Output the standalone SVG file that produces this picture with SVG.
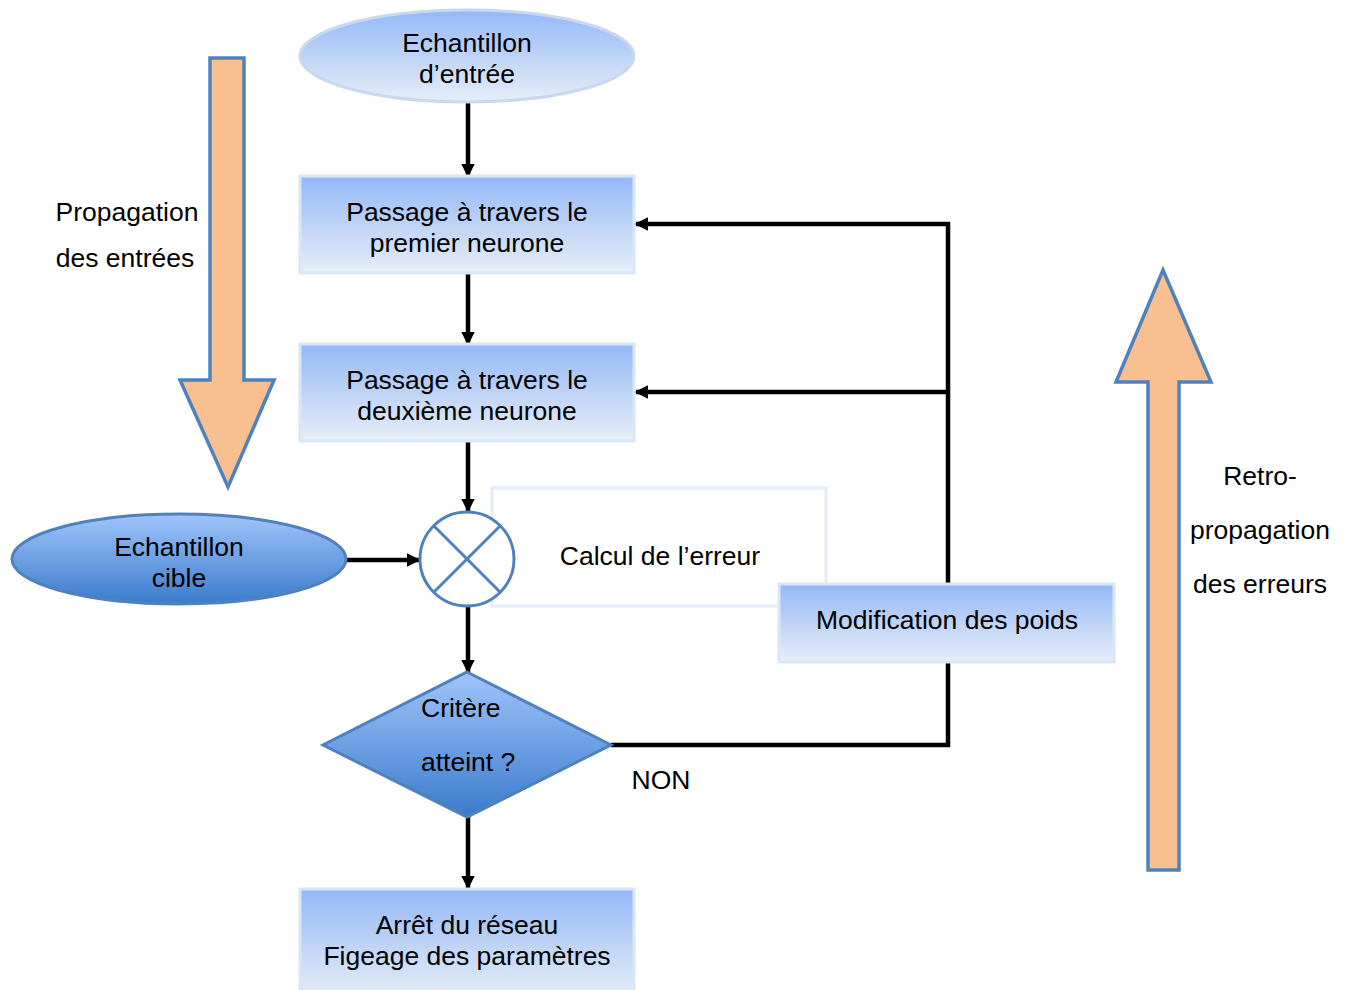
<svg xmlns="http://www.w3.org/2000/svg" width="1349" height="990" viewBox="0 0 1349 990">
<defs>
<linearGradient id="gLight" x1="0" y1="0" x2="0" y2="1">
<stop offset="0" stop-color="#93b8f9"/>
<stop offset="0.55" stop-color="#c2d6f5"/>
<stop offset="1" stop-color="#e6eef9"/>
</linearGradient>
<linearGradient id="gDark" x1="0" y1="0" x2="0" y2="1">
<stop offset="0" stop-color="#a0c4fb"/>
<stop offset="1" stop-color="#3b7bcb"/>
</linearGradient>
<marker id="ah" viewBox="0 0 10 10" refX="9" refY="5" markerWidth="3" markerHeight="3" orient="auto" markerUnits="strokeWidth">
<path d="M0,0 L10,5 L0,10 z" fill="#000"/>
</marker>
<style>
text{font-family:"Liberation Sans",Arial,sans-serif;font-size:26.5px;fill:#000;text-anchor:middle}
.box{fill:url(#gLight);stroke:#dbe6f5;stroke-width:3}
.dark{fill:url(#gDark);stroke:#4f81bd;stroke-width:3}
.conn{stroke:#000;stroke-width:4.5;fill:none}
.big{fill:#f8c090;stroke:#4f81bd;stroke-width:3.5}
</style>
</defs>
<g id="arrowDown"><path class="big" d="M210,58 L244,58 L244,380 L274,380 L228,487 L180,380 L210,380 Z"/></g>
<g id="arrowUp"><path class="big" d="M1148,870 L1179,870 L1179,382 L1211,382 L1163,270 L1116,382 L1148,382 Z"/></g>
<g id="labelProp"><text x="127" y="221">Propagation</text><text x="125" y="267">des entrées</text></g>
<g id="labelRetro"><text x="1260" y="485">Retro-</text><text x="1260" y="539">propagation</text><text x="1260" y="593">des erreurs</text></g>
<g id="connectors">
<line class="conn" x1="468" y1="103" x2="468" y2="176" marker-end="url(#ah)"/>
<line class="conn" x1="468" y1="273" x2="468" y2="344" marker-end="url(#ah)"/>
<line class="conn" x1="468" y1="441" x2="468" y2="511" marker-end="url(#ah)"/>
<line class="conn" x1="347" y1="560" x2="419" y2="560" marker-end="url(#ah)"/>
<line class="conn" x1="468" y1="606" x2="468" y2="672" marker-end="url(#ah)"/>
<line class="conn" x1="468" y1="817" x2="468" y2="888" marker-end="url(#ah)"/>
<polyline class="conn" points="611,745 948,745 948,662"/>
<polyline class="conn" points="948,584 948,224 636,224" marker-end="url(#ah)"/>
<line class="conn" x1="948" y1="392" x2="636" y2="392" marker-end="url(#ah)"/>
</g>
<g id="entree"><ellipse cx="467" cy="56" rx="167" ry="46" fill="url(#gLight)" stroke="#c8d8f0" stroke-width="3"/><text x="467" y="52">Echantillon</text><text x="467" y="83">d’entrée</text></g>
<g id="neurone1"><rect class="box" x="300" y="176" width="334" height="97"/><text x="467" y="221">Passage à travers le</text><text x="467" y="252">premier neurone</text></g>
<g id="neurone2"><rect class="box" x="300" y="344" width="334" height="97"/><text x="467" y="389">Passage à travers le</text><text x="467" y="420">deuxième neurone</text></g>
<g id="calcul"><rect x="492" y="488" width="334" height="118" fill="#fff" stroke="#e4ecf7" stroke-width="3"/><text x="660" y="565">Calcul de l’erreur</text></g>
<g id="comparateur"><circle cx="467" cy="559" r="47" fill="#fff" stroke="#4f81bd" stroke-width="3"/><line x1="434" y1="526" x2="500" y2="592" stroke="#4f81bd" stroke-width="3"/><line x1="500" y1="526" x2="434" y2="592" stroke="#4f81bd" stroke-width="3"/></g>
<g id="cible"><ellipse class="dark" cx="179" cy="559" rx="167" ry="45"/><text x="179" y="556">Echantillon</text><text x="179" y="587">cible</text></g>
<g id="modif"><rect class="box" x="779" y="584" width="335" height="78"/><text x="947" y="629">Modification des poids</text></g>
<g id="critere"><polygon class="dark" points="467,672 611,745 467,817 323,745"/><text x="421" y="717" style="text-anchor:start">Critère</text><text x="421" y="771" style="text-anchor:start">atteint ?</text></g>
<g id="non"><text x="661" y="789">NON</text></g>
<g id="arret"><rect class="box" x="300" y="889" width="334" height="110"/><text x="467" y="934">Arrêt du réseau</text><text x="467" y="965">Figeage des paramètres</text></g>
</svg>
